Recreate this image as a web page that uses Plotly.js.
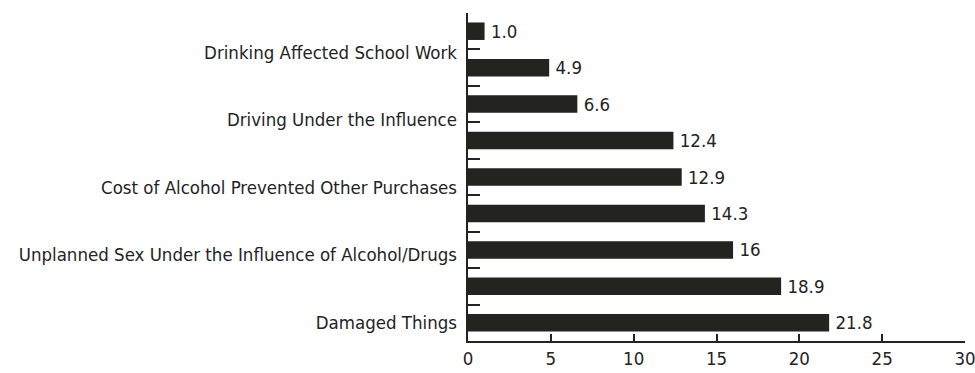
<!DOCTYPE html>
<html>
<head>
<meta charset="utf-8">
<script src="https://cdn.plot.ly/plotly-3.0.1.min.js"></script>
<style>html,body{margin:0;padding:0;background:#fff;}#chart{width:975px;height:373px;}</style>
</head>
<body>
<div id="chart"></div>
<script>
// Data
var barIds = ["b1","b2","b3","b4","b5","b6","b7","b8","b9"];
var values = [1.0, 4.9, 6.6, 12.4, 12.9, 14.3, 16, 18.9, 21.8];
var valueLabels = ["1.0","4.9","6.6","12.4","12.9","14.3","16","18.9","21.8"];
var axisLabels = ["Damaged Things",
  "Unplanned Sex Under the Influence of Alcohol/Drugs",
  "Cost of Alcohol Prevented Other Purchases",
  "Driving Under the Influence",
  "Drinking Affected School Work"];
var xTicks = [0, 5, 10, 15, 20, 25, 30];

var ink = "#23231f";
var fontFam = "'DejaVu Sans Condensed', 'Liberation Sans Narrow', sans-serif";
var fs = 18.5;

var traces = [
  {
    type: "bar", orientation: "h",
    x: values, y: barIds,
    text: valueLabels.map(function(s){return "\u2009" + s;}),
    textposition: "outside", constraintext: "none",
    textfont: {family: fontFam, size: fs, color: ink},
    cliponaxis: false,
    marker: {color: ink},
    hoverinfo: "none",
    xaxis: "x", yaxis: "y"
  },
  {
    type: "scatter", mode: "markers",
    x: axisLabels.map(function(){return 0;}), y: axisLabels,
    marker: {opacity: 0, size: 1},
    hoverinfo: "none", showlegend: false,
    xaxis: "x", yaxis: "y2"
  }
];

var layout = {
  width: 975, height: 373,
  margin: {l: 468, r: 10, t: 13, b: 32},
  paper_bgcolor: "#fff", plot_bgcolor: "#fff",
  showlegend: false,
  bargap: 0.52,
  font: {family: fontFam, size: fs, color: ink},
  xaxis: {
    range: [0, 30], tickvals: xTicks, ticktext: xTicks.map(String),
    showgrid: false, zeroline: false,
    showline: true, linecolor: ink, linewidth: 2,
    ticks: "inside", ticklen: 7, tickwidth: 2, tickcolor: ink,
    ticklabeloverflow: "allow",
    tickfont: {family: fontFam, size: fs, color: ink},
    fixedrange: true
  },
  yaxis: {
    type: "category", categoryorder: "array", categoryarray: barIds,
    autorange: false, range: [8.5, -0.5],
    showticklabels: false, showgrid: false, zeroline: false,
    showline: true, linecolor: ink, linewidth: 2,
    ticks: "inside", tickson: "boundaries", ticklen: 12, tickwidth: 2, tickcolor: ink,
    fixedrange: true
  },
  yaxis2: {
    type: "category", categoryorder: "array", categoryarray: axisLabels,
    overlaying: "y", side: "left",
    autorange: false, range: [-0.281, 4.578],
    showgrid: false, zeroline: false, showline: false, ticks: "",
    ticklabelstandoff: 10,
    tickfont: {family: fontFam, size: fs, color: ink},
    fixedrange: true
  }
};

Plotly.newPlot("chart", traces, layout, {displayModeBar: false, staticPlot: true});
</script>
</body>
</html>
